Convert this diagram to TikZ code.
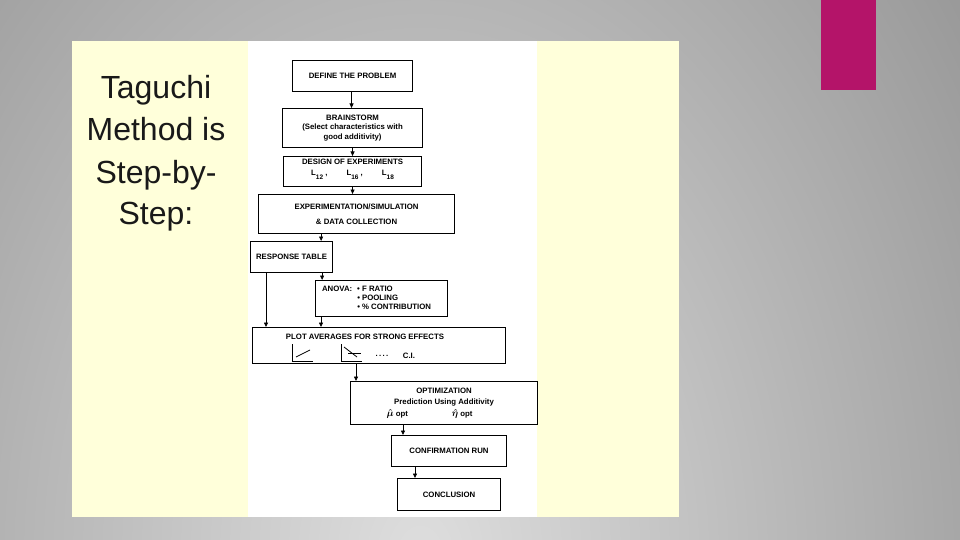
\documentclass[tikz,border=0pt]{standalone}
\usepackage{fontspec}
\setmainfont{Liberation Sans}
\usetikzlibrary{positioning,arrows.meta,calc}

\definecolor{panel}{RGB}{255,255,218}
\definecolor{accent}{RGB}{180,20,105}
\definecolor{bglight}{RGB}{222,222,222}
\definecolor{bgdark}{RGB}{128,128,128}

% subscripted design label, L_12 etc.
\newcommand\lsub[1]{L\raisebox{-3.5pt}{\fontsize{6.5}{7}\selectfont #1}}
% estimate symbol with hat
\newcommand\hatsym[1]{{\fontsize{10}{11}\selectfont\boldmath$\hat{#1}$}}

\begin{document}
\begin{tikzpicture}[x=1pt, y=-1pt,
  box/.style={draw, line width=1.1pt, align=center, anchor=north west,
              inner sep=2pt, font=\fontsize{7.8}{9.8}\selectfont\bfseries},
  lbl/.style={inner sep=0pt, font=\fontsize{7.8}{9.8}\selectfont\bfseries},
  title/.style={inner sep=0pt, anchor=base, text=black!90,
                font=\fontsize{32}{42}\selectfont},
  arr/.style={-{Triangle[length=4.5pt,width=4pt]}, line width=0.8pt}]
\useasboundingbox (0,0) rectangle (960,540);

% slide background
\begin{scope}
  \clip (0,0) rectangle (960,540);
  \shade[inner color=bglight, outer color=bgdark] (420,560) ellipse (920pt and 1300pt);
\end{scope}
\fill[panel] (72,41) rectangle (679,517);
\fill[white] (248,41) rectangle (537,517);
\fill[accent] (821,0) rectangle (876,90);

% heading
\foreach \txt/\yy/\nm in {Taguchi/99/ttl1, Method is/141/ttl2,
                          Step-by-/183/ttl3, Step:/224/ttl4}
  \node[title] (\nm) at (156,\yy) {\txt};

% flow chart
\node[box, minimum width=120pt, minimum height=31pt] (define) at (292,60)
  {DEFINE THE PROBLEM};
\node[box, minimum width=140pt, minimum height=39pt] (brain) at (282,108)
  {BRAINSTORM\\(Select characteristics with\\good additivity)};
\node[box, minimum width=138pt, minimum height=30pt] (design) at (283,156)
  {DESIGN OF EXPERIMENTS\\[1pt]
   \lsub{12}\ ,\hspace{19pt}\lsub{16}\ ,\hspace{19pt}\lsub{18}\\[-2pt]};
\node[box, minimum width=196pt, minimum height=39pt] (expt) at (258,194)
  {EXPERIMENTATION/SIMULATION\\[5pt]\& DATA COLLECTION};
\node[box, minimum width=82pt, minimum height=31pt] (resp) at (250,241)
  {RESPONSE TABLE};
\node[box, minimum width=132pt, minimum height=36pt] (anova) at (315,280)
  {\begin{tabular}{@{}l@{\hspace{5pt}}l@{\hspace{10pt}}}
     ANOVA: & • F RATIO\\[-0.5pt]
            & • POOLING\\[-0.5pt]
            & • \% CONTRIBUTION
   \end{tabular}};
\node[box, minimum width=253pt, minimum height=36pt] (plot) at (252,327) {};
\node[lbl, anchor=base] (plottxt) at (365,339) {PLOT AVERAGES FOR STRONG EFFECTS};
\node[lbl] (dots) at (382,356) {.\,.\,.\,.};
\node[lbl] (ci) at (409,356) {C.I.};
\node[box, minimum width=187pt, minimum height=43pt,
      font=\fontsize{7.8}{11.5}\selectfont\bfseries] (opt) at (350,381)
  {OPTIMIZATION\\Prediction Using Additivity\\
   \makebox[115pt][l]{\hatsym{\mu}\ opt\hspace{44pt}\hatsym{\eta}\ opt}};
\node[box, minimum width=115pt, minimum height=31pt] (confirm) at (391,435)
  {CONFIRMATION RUN};
\node[box, minimum width=103pt, minimum height=32pt] (concl) at (397,478)
  {CONCLUSION};

% little effect plots
\draw[line width=0.8pt] (292,344) -- (292,361) -- (313,361);
\draw[line width=0.8pt] (296,357) -- (310,350);
\draw[line width=0.8pt] (341,344) -- (341,361) -- (362,361);
\draw[line width=0.8pt] (344,347) -- (357,357);
\draw[line width=0.8pt] (348,353) -- (361,353);

% connectors
\draw[arr] ([xshift=-1pt]define.south) -- ([xshift=-1pt]define.south |- brain.north);
\draw[arr] (brain.south) -- (brain.south |- design.north);
\draw[arr] (design.south) -- (design.south |- expt.north);
\draw[arr] ([xshift=-12pt]resp.north east |- expt.south) -- ([xshift=-12pt]resp.north east);
\draw[arr] ([xshift=-11pt]resp.south east) -- ([xshift=-11pt]resp.south east |- anova.north);
\draw[arr] ([xshift=16pt]resp.south west) -- ([xshift=16pt]resp.south west |- plot.north);
\draw[arr] ([xshift=6pt]anova.south west) -- ([xshift=6pt]anova.south west |- plot.north);
\draw[arr] ([xshift=6pt]opt.north west |- plot.south) -- ([xshift=6pt]opt.north west);
\draw[arr] ([xshift=12pt]confirm.north west |- opt.south) -- ([xshift=12pt]confirm.north west);
\draw[arr] ([xshift=18pt]concl.north west |- confirm.south) -- ([xshift=18pt]concl.north west);
\end{tikzpicture}
\end{document}
